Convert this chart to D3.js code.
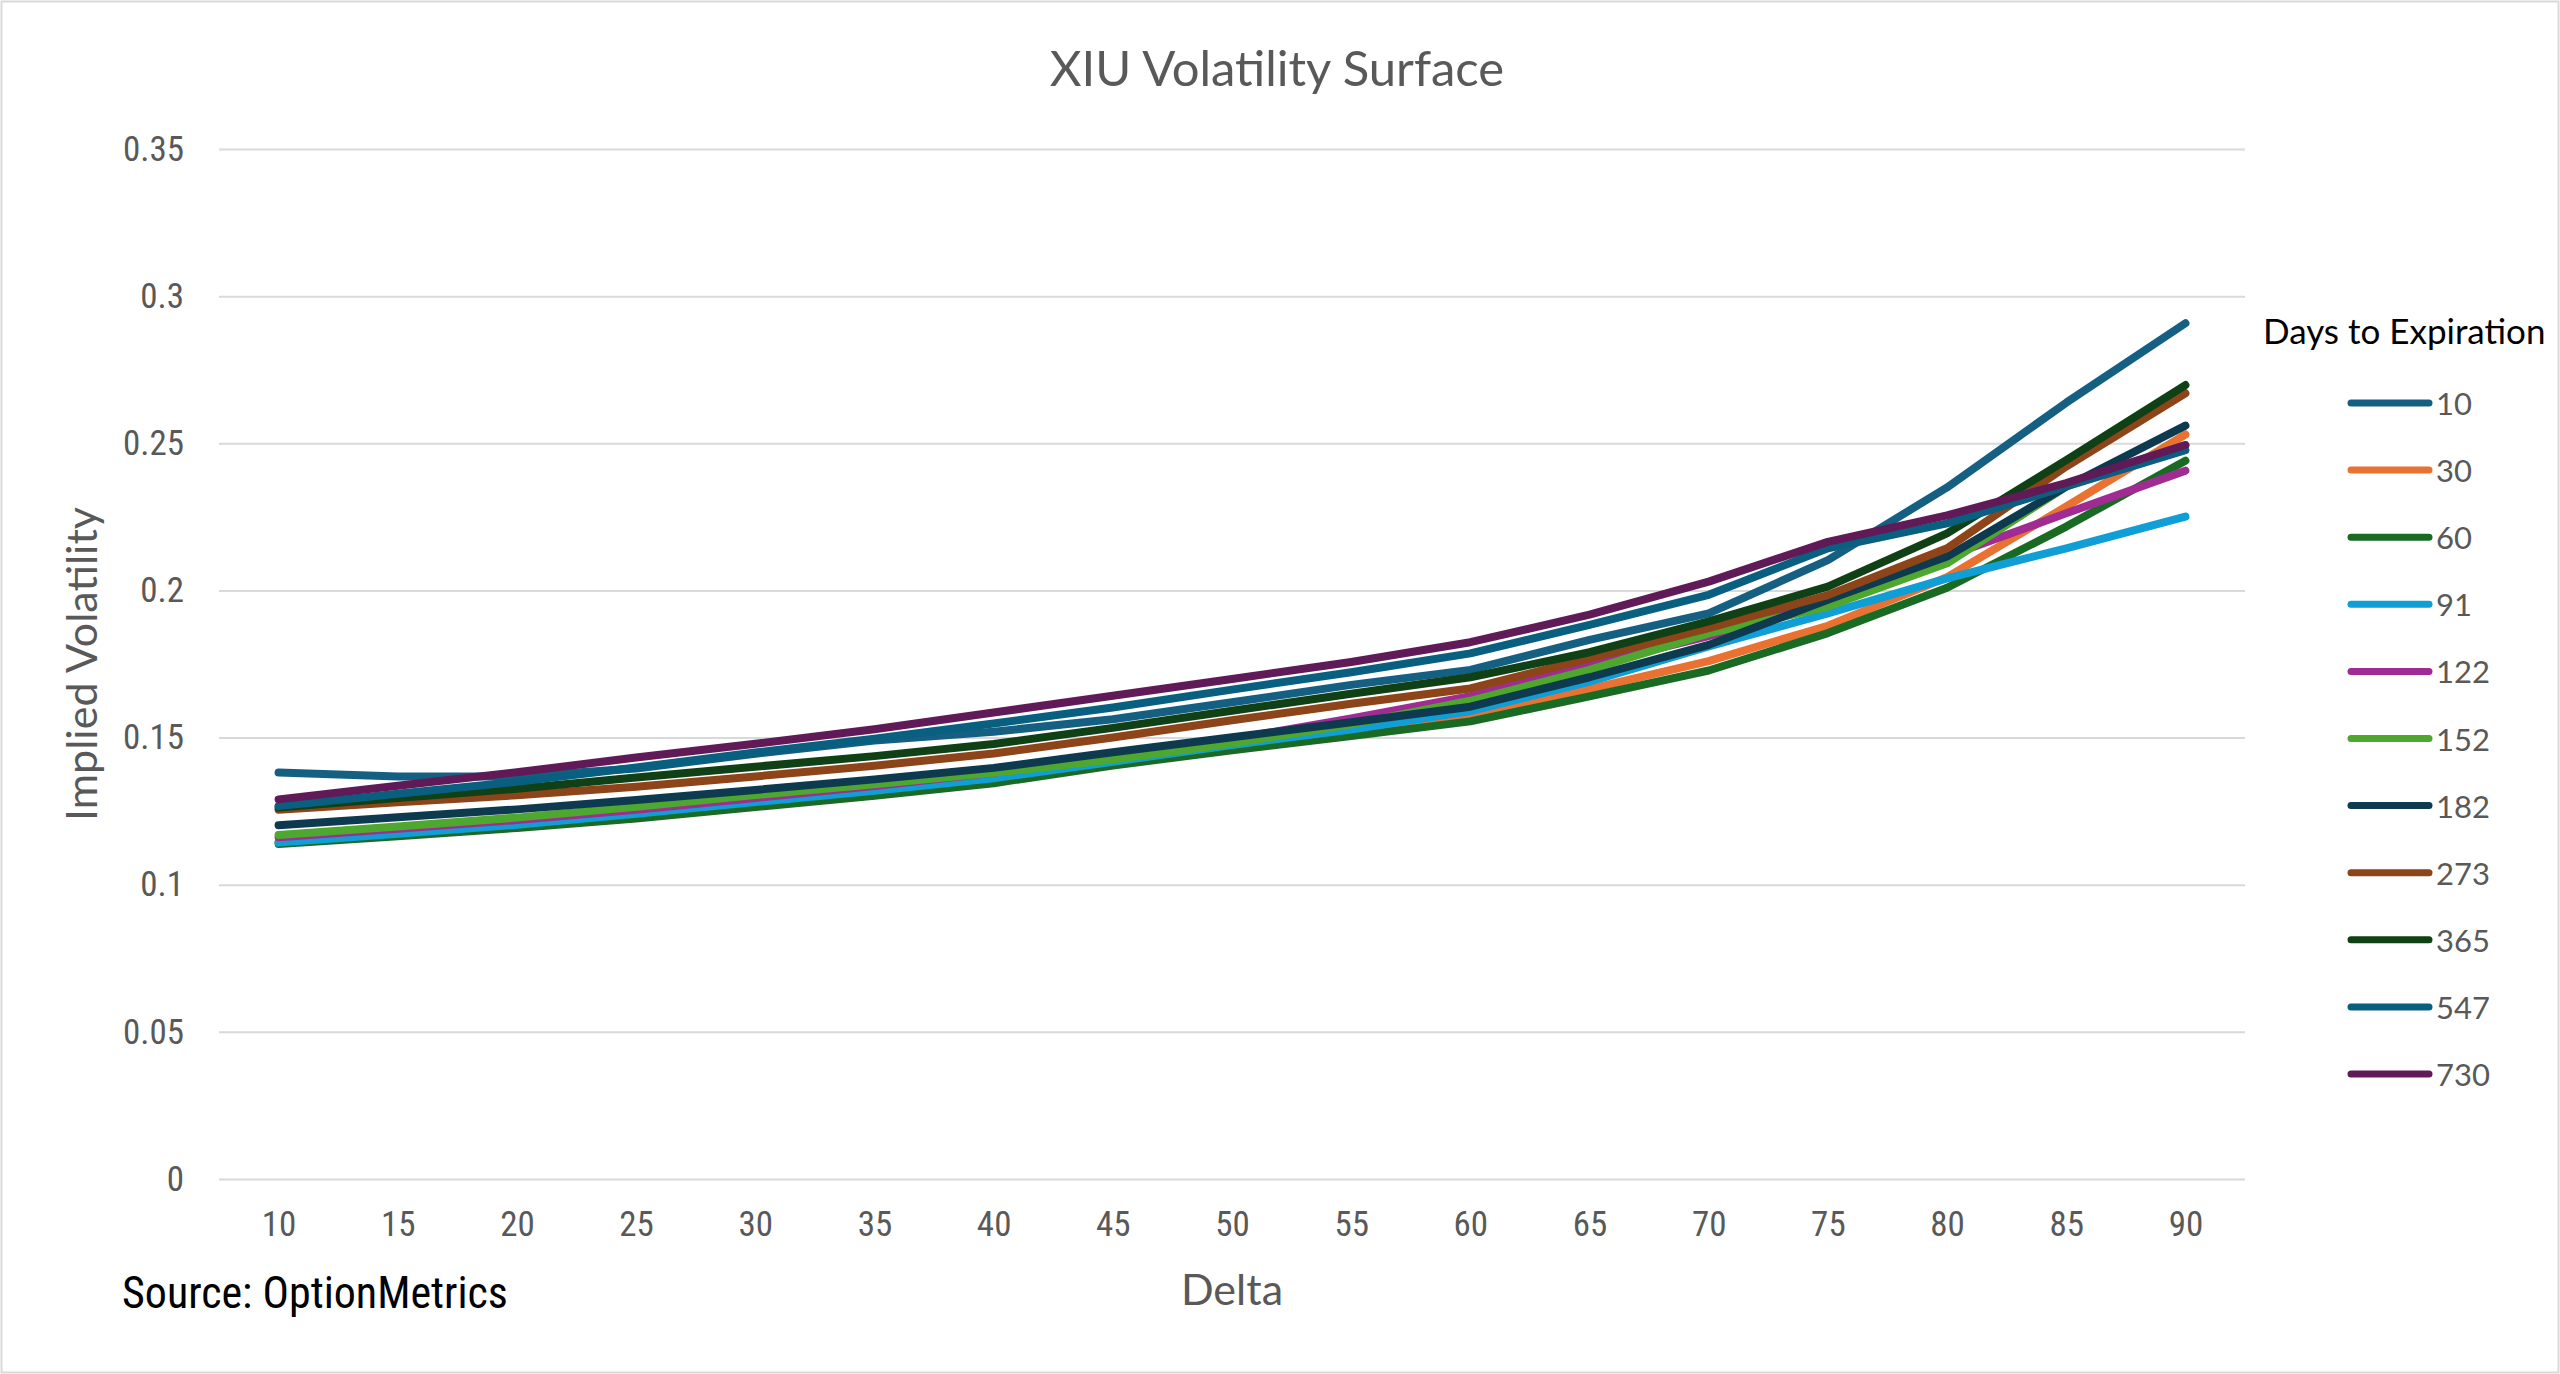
<!DOCTYPE html>
<html>
<head>
<meta charset="utf-8">
<script src="https://cdn.jsdelivr.net/npm/d3@7"></script>
<style>
  body { margin: 0; background: #fff; }
  svg { display: block; }
</style>
</head>
<body>
<div id="vis"></div>
<script>

// delta buckets on the x axis
var deltas = [10, 15, 20, 25, 30, 35, 40, 45, 50, 55, 60, 65, 70, 75, 80, 85, 90];

// days to expiration, one series each
var days = ['10', '30', '60', '91', '122', '152', '182', '273', '365', '547', '730'];

// implied vol per series
var iv10  = [0.1381, 0.1368, 0.1368, 0.1395, 0.1445, 0.1490, 0.1520, 0.1562, 0.1620, 0.1679, 0.1730, 0.1832, 0.1922, 0.2103, 0.2350, 0.2638, 0.2908];
var iv30  = [0.1145, 0.1175, 0.1205, 0.1238, 0.1278, 0.1316, 0.1358, 0.1412, 0.1470, 0.1520, 0.1570, 0.1665, 0.1760, 0.1880, 0.2045, 0.2285, 0.2530];
var iv60  = [0.1138, 0.1165, 0.1193, 0.1225, 0.1264, 0.1302, 0.1345, 0.1405, 0.1457, 0.1505, 0.1555, 0.1640, 0.1728, 0.1855, 0.2009, 0.2217, 0.2441];
var iv91  = [0.1143, 0.1173, 0.1204, 0.1241, 0.1281, 0.1319, 0.1362, 0.1418, 0.1475, 0.1527, 0.1590, 0.1690, 0.1810, 0.1922, 0.2041, 0.2143, 0.2251];
var iv122 = [0.1161, 0.1190, 0.1220, 0.1255, 0.1295, 0.1335, 0.1380, 0.1435, 0.1495, 0.1565, 0.1641, 0.1745, 0.1845, 0.1960, 0.2115, 0.2262, 0.2407];
var iv152 = [0.1169, 0.1198, 0.1228, 0.1265, 0.1305, 0.1341, 0.1380, 0.1425, 0.1480, 0.1545, 0.1625, 0.1730, 0.1854, 0.1945, 0.2092, 0.2353, 0.2494];
var iv182 = [0.1202, 0.1229, 0.1256, 0.1288, 0.1322, 0.1358, 0.1397, 0.1450, 0.1501, 0.1552, 0.1605, 0.1705, 0.1815, 0.1968, 0.2115, 0.2353, 0.2560];
var iv273 = [0.1255, 0.1280, 0.1304, 0.1333, 0.1368, 0.1404, 0.1446, 0.1500, 0.1559, 0.1615, 0.1667, 0.1769, 0.1872, 0.1984, 0.2143, 0.2421, 0.2670];
var iv365 = [0.1262, 0.1295, 0.1326, 0.1364, 0.1401, 0.1437, 0.1478, 0.1533, 0.1591, 0.1649, 0.1705, 0.1790, 0.1895, 0.2013, 0.2194, 0.2443, 0.2698];
var iv547 = [0.1267, 0.1309, 0.1350, 0.1398, 0.1449, 0.1496, 0.1548, 0.1602, 0.1663, 0.1722, 0.1786, 0.1883, 0.1985, 0.2143, 0.2228, 0.2353, 0.2477];
var iv730 = [0.1290, 0.1336, 0.1382, 0.1432, 0.1479, 0.1528, 0.1585, 0.1642, 0.1699, 0.1757, 0.1824, 0.1918, 0.2030, 0.2165, 0.2255, 0.2365, 0.2494];

var yTicks = [0, 0.05, 0.1, 0.15, 0.2, 0.25, 0.3, 0.35];

var colors = ['#156082', '#E97132', '#196B24', '#0F9ED5', '#A02B93', '#4EA72E',
  '#0D3A4E', '#8C4418', '#0F4016', '#095F80', '#601A58'];

var series = days.map(function(d, i) {
  return { name: d, color: colors[i],
    values: [iv10, iv30, iv60, iv91, iv122, iv152, iv182, iv273, iv365, iv547, iv730][i] };
});

var width = 2560, height = 1374;
var plot = { left: 219, right: 2245, top: 149, bottom: 1179 };

var narrow = '"Liberation Sans Narrow", "Roboto Condensed", "Arial Narrow", sans-serif';
var regular = 'Lato, "Open Sans", sans-serif';

var svg = d3.select('#vis').append('svg')
  .attr('width', width)
  .attr('height', height);

// chart border
svg.append('rect')
  .attr('x', 1.5).attr('y', 1.5)
  .attr('width', width - 3).attr('height', height - 3)
  .attr('fill', '#fff')
  .attr('stroke', '#d9d9d9')
  .attr('stroke-width', 2);

var x = d3.scalePoint()
  .domain(deltas)
  .range([plot.left, plot.right])
  .padding(0.5);

var y = d3.scaleLinear()
  .domain([0, 0.35])
  .range([plot.bottom, plot.top]);

// gridlines + y labels
var yAxis = d3.axisLeft(y)
  .tickValues(yTicks)
  .tickSize(-(plot.right - plot.left))
  .tickPadding(35)
  .tickFormat(function(d) { return d3.format('')(+d.toFixed(2)); });

var gy = svg.append('g')
  .attr('transform', 'translate(' + plot.left + ',0)')
  .call(yAxis);
gy.select('.domain').remove();
gy.selectAll('.tick line')
  .attr('stroke', '#d9d9d9')
  .attr('stroke-width', 2);
gy.selectAll('.tick text')
  .attr('fill', '#595959')
  .style('font-family', narrow)
  .style('font-size', '35px');

// x labels
var xAxis = d3.axisBottom(x).tickSize(0).tickPadding(32);
var gx = svg.append('g')
  .attr('transform', 'translate(0,' + plot.bottom + ')')
  .call(xAxis);
gx.select('.domain').remove();
gx.selectAll('.tick text')
  .attr('fill', '#595959')
  .style('font-family', narrow)
  .style('font-size', '35px');

var line = d3.line()
  .x(function(d, i) { return x(deltas[i]); })
  .y(function(d) { return y(d); });

svg.append('g').selectAll('path')
  .data(series)
  .enter()
  .append('path')
  .attr('d', function(d) { return line(d.values); })
  .attr('fill', 'none')
  .attr('stroke', function(d) { return d.color; })
  .attr('stroke-width', 8)
  .attr('stroke-linecap', 'round')
  .attr('stroke-linejoin', 'round');

// titles
svg.append('text')
  .attr('x', 1277).attr('y', 67)
  .attr('text-anchor', 'middle')
  .attr('dominant-baseline', 'central')
  .attr('fill', '#595959')
  .style('font-family', regular)
  .style('font-size', '49px')
  .text('XIU Volatility Surface');

svg.append('text')
  .attr('x', (plot.left + plot.right) / 2).attr('y', 1288)
  .attr('text-anchor', 'middle')
  .attr('dominant-baseline', 'central')
  .attr('fill', '#595959')
  .style('font-family', regular)
  .style('font-size', '43px')
  .text('Delta');

svg.append('text')
  .attr('transform', 'translate(80,' + (plot.top + plot.bottom) / 2 + ') rotate(-90)')
  .attr('text-anchor', 'middle')
  .attr('dominant-baseline', 'central')
  .attr('fill', '#595959')
  .style('font-family', regular)
  .style('font-size', '43px')
  .text('Implied Volatility');

svg.append('text')
  .attr('x', 122).attr('y', 1293)
  .attr('dominant-baseline', 'central')
  .attr('fill', '#000')
  .style('font-family', narrow)
  .style('font-size', '44px')
  .text('Source: OptionMetrics');

// legend
var legend = svg.append('g');
legend.append('text')
  .attr('x', 2263).attr('y', 330)
  .attr('dominant-baseline', 'central')
  .attr('fill', '#000')
  .style('font-family', regular)
  .style('font-size', '35px')
  .text('Days to Expiration');

var item = legend.selectAll('.item')
  .data(series)
  .enter()
  .append('g')
  .attr('class', 'item')
  .attr('transform', function(d, i) { return 'translate(0,' + (403 + i * 67.1) + ')'; });

item.append('line')
  .attr('x1', 2351).attr('x2', 2429)
  .attr('stroke', function(d) { return d.color; })
  .attr('stroke-width', 7)
  .attr('stroke-linecap', 'round');

item.append('text')
  .attr('x', 2436)
  .attr('dominant-baseline', 'central')
  .attr('fill', '#595959')
  .style('font-family', regular)
  .style('font-size', '31px')
  .text(function(d) { return d.name; });

</script>
</body>
</html>
